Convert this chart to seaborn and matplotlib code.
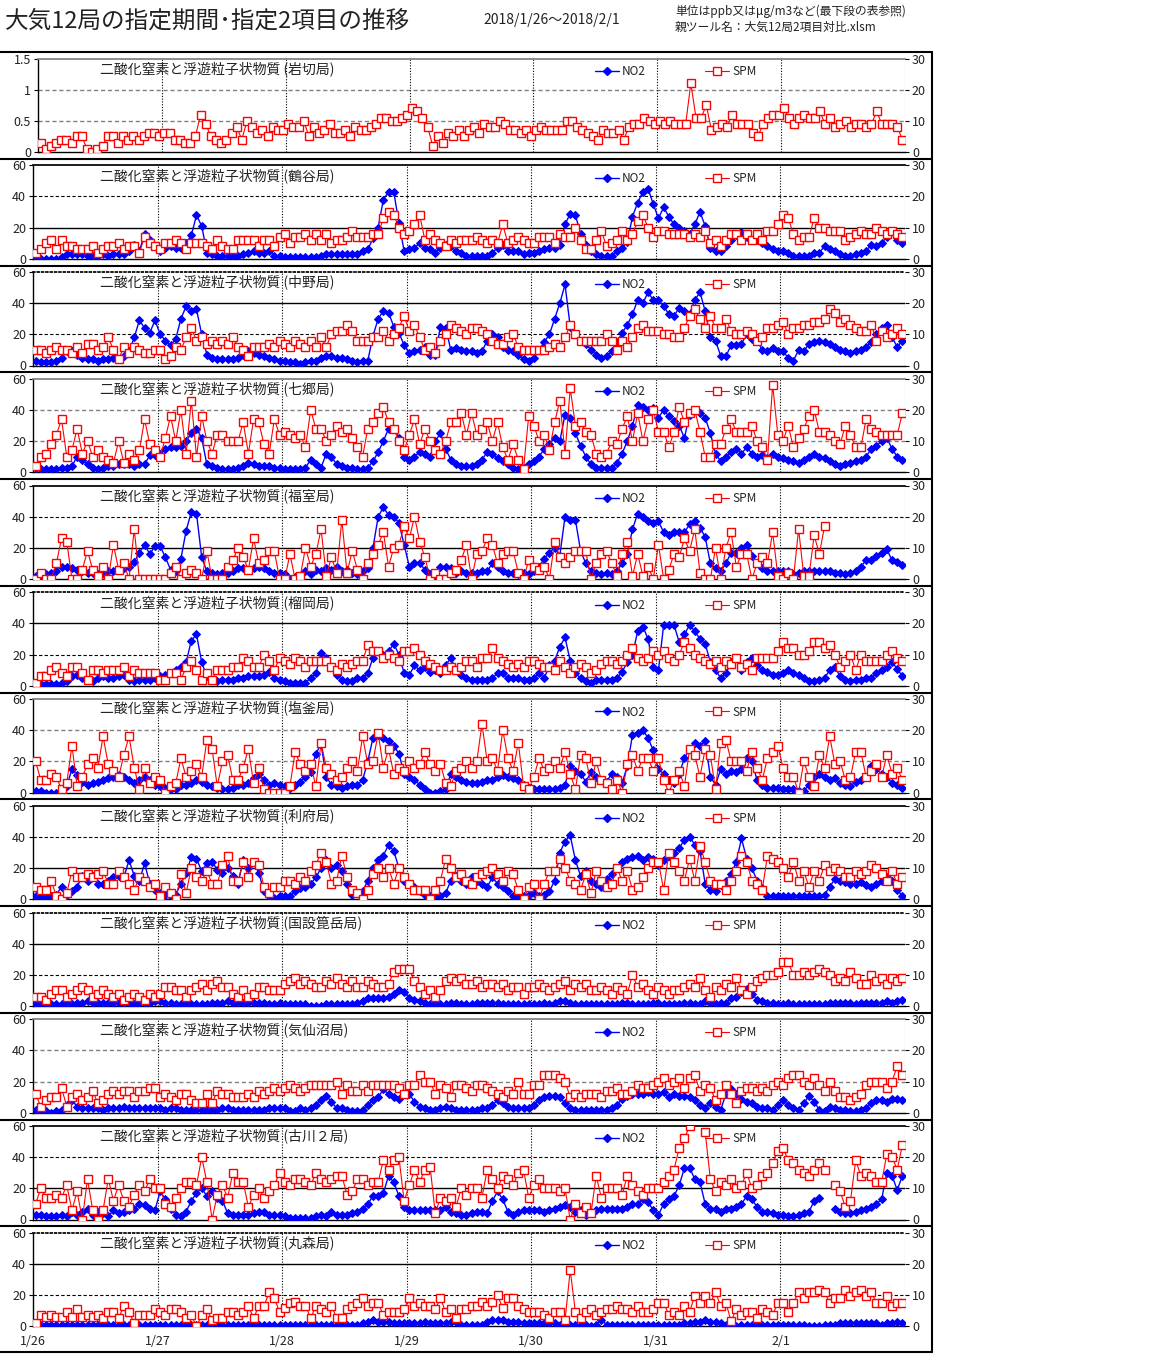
import numpy as np
import pandas as pd
import matplotlib
matplotlib.use('Agg')
import matplotlib.pyplot as plt
import seaborn as sns
from matplotlib.lines import Line2D

# Style
sns.set_theme(style="white")
plt.rcParams['font.family'] = ['Noto Sans CJK JP', 'DejaVu Sans']

N = None  # missing hour

# ---- hourly data 1/26 01:00 .. 2/2 00:00 (168 h), NO2 left axis, SPM right axis ----
iwakiri_no2 = []
iwakiri_spm = [3, 1, 2, 3, 4, 4, 3, 5, 5, 1, 0, 1, 2, 5, 5, 3, 5, 4, 5, 4, 5, 6, 6, 5,
               6, 6, 4, 4, 3, 3, 5, 12, 9, 5, 4, 3, 4, 6, 8, 4, 10, 8, 6, 7, 5, 8, 7, 7,
               9, 8, 8, 10, 5, 8, 6, 7, 9, 6, 6, 7, 5, 8, 7, 7, 8, 9, 11, 11, 10, 10, 11,
               12, 14, 13, 11, 8, 2, 5, 3, 6, 5, 7, 5, 7, 8, 6, 9, 8, 8, 10, 9,
               7, 7, 6, 7, 5, 7, 8, 7, 7, 7, 7, 10, 10, 8, 7, 6, 5, 4, 7, 6,
               6, 7, 4, 8, 9, 9, 11, 10, 9, 10, 9, 10, 9, 9, 9, 22, 11, 11, 15, 7,
               8, 9, 8, 12, 9, 9, 9, 6, 5, 9, 11, 12, 12, 14, 11, 9, 11,
               12, 11, 11, 13, 9, 11, 8, 9, 10, 8, 9, 9, 8, 9, 13, 9, 9, 9, 8, 4]

tsurugaya_no2 = [0, 0, 0, 0, 0, 1, 3, 3, 3, 3, 2, 2, 2, 3, 2, 3, 3, 3, 5, 9, 5, 16, 12, 8,
                 5, 7, 8, 7, 7, 10, 15, 28, 21, 4, 3, 2, 2, 2, 2, 2, 3, 4, 5, 4, 4, 5, 2, 2,
                 1, 1, 1, 1, 1, 1, 1, 2, 3, 3, 3, 3, 3, 3, 3, 5, 6, 13, 20, 38, 43, 43, 23, 5,
                 6, 7, 10, 7, 6, 4, 7, 9, 8, 5, 4, 2, 2, 2, 2, 2, 4, 7, 9, 5, 5, 5, 3, 4,
                 4, 5, 6, 7, 7, 9, 22, 29, 28, 16, 9, 5, 3, 2, 2, 2, 5, 7, 11, 27, 36, 43, 45, 35,
                 26, 33, 27, 22, 20, 18, 16, 22, 30, 21, 7, 5, 5, 8, 12, 15, 17, 14, 12, 12, 10, 8, 6, 5,
                 5, 4, 2, 2, 2, 2, 4, 4, 8, 6, 5, 3, 2, 2, 3, 4, 5, 9, 8, 10, 14, 18, 12, 10]
tsurugaya_spm = [2, 3, 5, 6, 3, 6, 4, 4, 3, 3, 3, 4, 2, 3, 4, 4, 5, 3, 4, 4, 2, 7, 5, 4,
                 3, 5, 5, 6, 5, 3, 5, 5, 5, 4, 3, 6, 4, 3, 3, 6, 6, 6, 6, 4, 6, 6, 4, 7,
                 8, 5, 7, 7, 8, 6, 8, 6, 8, 5, 6, 6, 7, 9, 7, 7, 7, 8, 8, 13, 15, 14, 10, 8,
                 9, 11, 14, 6, 8, 6, 5, 4, 6, 5, 6, 6, 6, 7, 6, 5, 6, 5, 11, 5, 6, 7, 6, 5,
                 5, 7, 7, 7, 5, 8, 7, 7, 10, 6, 3, 3, 6, 9, 4, 5, 6, 9, 6, 8, 12, 14, 10, 7,
                 9, 9, 8, 8, 8, 8, 7, 8, 7, 9, 5, 6, 4, 6, 8, 8, 6, 8, 6, 8, 6, 9, 9, 11,
                 14, 13, 8, 6, 7, 7, 13, 10, 10, 9, 9, 9, 6, 7, 8, 9, 8, 8, 10, 9, 8, 9, 8, 7]

nakano_no2 = [3, 2, 2, 2, 3, 5, 9, 9, 7, 5, 4, 4, 3, 4, 4, 5, 4, 6, 9, 18, 29, 24, 21, 29,
              20, 16, 13, 17, 30, 38, 35, 36, 20, 7, 5, 4, 4, 4, 4, 5, 7, 9, 8, 7, 6, 5, 4, 3,
              3, 2, 2, 1, 2, 3, 3, 5, 6, 6, 5, 5, 4, 3, 2, 3, 3, 19, 30, 35, 34, 25, 21, 13,
              8, 9, 10, 12, 7, 7, 25, 24, 10, 11, 10, 9, 9, 8, 9, 16, 20, 18, 12, 10, 9, 7, 4, 3,
              5, 10, 15, 20, 30, 40, 52, 25, 20, 16, 14, 10, 7, 5, 6, 9, 15, 21, 26, 33, 42, 40, 47, 42,
              42, 38, 33, 32, 37, 35, 33, 42, 47, 35, 18, 16, 6, 6, 13, 13, 14, 20, 17, 16, 10, 9, 11, 9,
              9, 5, 3, 10, 9, 14, 15, 16, 15, 14, 12, 10, 9, 8, 9, 10, 12, 15, 20, 24, 26, 18, 12, 16]
nakano_spm = [5, 5, 4, 5, 6, 5, 5, 4, 6, 4, 7, 7, 5, 6, 9, 5, 2, 6, 4, 6, 5, 4, 4, 5,
              5, 2, 3, 6, 5, 9, 12, 8, 9, 7, 8, 7, 8, 7, 9, 6, 5, 3, 6, 6, 6, 7, 6, 8,
              7, 6, 8, 7, 6, 8, 6, 9, 6, 10, 11, 11, 13, 11, 8, 8, 8, 9, 9, 11, 8, 10, 12, 16,
              11, 13, 9, 5, 6, 4, 8, 10, 13, 12, 11, 10, 12, 12, 11, 10, 8, 7, 7, 9, 10, 6, 5, 5,
              5, 5, 5, 6, 7, 6, 9, 13, 10, 8, 8, 8, 8, 8, 10, 8, 5, 8, 6, 9, 12, 13, 11, 11,
              11, 10, 10, 9, 9, 12, 16, 18, 15, 12, 16, 12, 12, 15, 11, 10, 10, 11, 10, 8, 9, 12, 12, 13,
              14, 10, 12, 12, 13, 13, 14, 14, 15, 18, 17, 14, 15, 13, 12, 11, 11, 13, 8, 11, 9, 10, 12, 10]

shichigo_no2 = [3, 2, 2, 2, 2, 3, 3, 4, 10, 8, 5, 3, 2, 3, 4, 4, 5, 5, 5, 4, 5, 5, 11, 11,
                12, 15, 16, 16, 17, 20, 25, 28, 22, 5, 4, 3, 2, 2, 2, 3, 4, 6, 5, 4, 4, 4, 3, 3,
                2, 2, 2, 2, 3, 8, 5, 3, 12, 10, 5, 4, 3, 3, 2, 2, 3, 7, 13, 20, 28, 28, 22, 10,
                8, 10, 13, 12, 10, 20, 25, 15, 8, 5, 4, 4, 4, 5, 8, 13, 12, 9, 7, 5, 3, 2, 3, 5,
                7, 10, 15, 18, 22, 20, 37, 35, 25, 17, 10, 5, 3, 3, 3, 3, 6, 12, 20, 30, 43, 42, 40, 41,
                35, 40, 36, 33, 30, 22, 37, 40, 38, 35, 25, 12, 7, 10, 13, 15, 12, 16, 12, 10, 11, 9, 12, 10,
                9, 8, 7, 6, 8, 10, 12, 10, 9, 7, 5, 4, 5, 6, 7, 8, 10, 15, 17, 20, 22, 15, 10, 8]
shichigo_spm = [2, 5, 6, 9, 12, 17, 5, 7, 14, 6, 10, 5, 7, 5, 4, 3, 10, 3, 6, 4, 7, 17, 9, 7,
                5, 11, 18, 10, 20, 6, 23, 5, 18, 10, 6, 12, 12, 10, 10, 10, 16, 6, 17, 16, 9, 6, 17, 12,
                13, 12, 11, 12, 8, 20, 14, 14, 10, 12, 15, 13, 14, 11, 8, 5, 14, 16, 19, 21, 16, 14, 10, 7,
                12, 17, 9, 14, 10, 7, 6, 10, 16, 16, 19, 12, 19, 12, 14, 16, 10, 16, 8, 4, 9, 4, 1, 18,
                15, 10, 12, 7, 16, 23, 6, 27, 15, 16, 13, 12, 6, 5, 6, 10, 9, 14, 18, 10, 19, 10, 17, 20,
                13, 13, 8, 13, 21, 16, 19, 20, 13, 5, 5, 9, 9, 14, 17, 13, 13, 13, 15, 10, 8, 4, 28, 12,
                10, 15, 8, 11, 14, 18, 20, 13, 13, 12, 10, 9, 15, 12, 8, 8, 17, 14, 13, 12, 12, 12, 12, 19]

fukumuro_no2 = [2, 2, 3, 4, 5, 8, 8, 7, 6, 5, 4, 4, 3, 4, 5, 5, 6, 7, 8, 11, 17, 22, 16, 21,
                21, 14, 6, 5, 13, 31, 43, 42, 14, 5, 4, 3, 4, 4, 5, 7, 7, 6, 7, 8, 7, 5, 4, 4,
                3, 0, 1, 2, 5, 3, 6, 5, 7, 6, 8, 5, 6, 4, 3, 5, 7, 20, 40, 46, 41, 40, 36, 22,
                8, 10, 10, 6, 3, 3, 8, 8, 7, 4, 5, 4, 4, 4, 5, 5, 10, 8, 5, 4, 4, 3, 4, 3,
                5, 8, 13, 17, 20, 15, 40, 38, 38, 18, 10, 5, 4, 3, 4, 3, 5, 10, 16, 32, 42, 40, 37, 36,
                37, 30, 28, 30, 30, 30, 35, 37, 33, 27, 10, 7, 5, 10, 17, 17, 20, 22, 15, 10, 7, 5, 5, 5,
                5, 5, 3, 4, 5, 5, 5, 5, 5, 5, 4, 4, 3, 4, 5, 8, 12, 12, 15, 17, 19, 12, 11, 9]
fukumuro_spm = [0, 2, 0, 0, 5, 13, 12, 0, 0, 3, 9, 3, 1, 4, 0, 11, 3, 5, 0, 16, 0, 0, 0, 0,
                0, 0, 2, 4, 0, 2, 3, 2, 0, 9, 0, 0, 0, 4, 6, 10, 7, 3, 13, 5, 6, 9, 9, 0,
                0, 8, 0, 1, 10, 4, 8, 16, 1, 7, 2, 19, 2, 9, 3, 0, 5, 8, 11, 15, 4, 10, 11, 17,
                13, 20, 12, 7, 0, 2, 0, 0, 2, 3, 6, 11, 0, 8, 9, 13, 11, 5, 8, 9, 9, 2, 0, 6,
                4, 3, 4, 0, 12, 7, 5, 7, 9, 9, 9, 0, 5, 8, 9, 5, 1, 8, 12, 1, 8, 1, 4, 0,
                11, 0, 3, 8, 7, 13, 9, 16, 2, 0, 0, 10, 0, 10, 15, 4, 8, 8, 0, 5, 7, 5, 15, 1,
                0, 2, 0, 16, 1, 1, 14, 8, 17, N, N, N, N, N, N, N, N, N, N, N, N, N, N, N]

tsutsujigaoka_no2 = [1, 1, 1, 1, 1, 2, 3, 6, 7, 5, 4, 3, 5, 6, 5, 5, 6, 7, 4, 3, 4, 4, 4, 5,
                     6, 7, 8, 10, 12, 15, 29, 33, 15, 6, 4, 3, 4, 4, 4, 5, 5, 6, 6, 6, 7, 9, 5, 4,
                     3, 2, 2, 2, 2, 5, 8, 21, 18, 12, 7, 4, 3, 3, 5, 5, 8, 18, 22, 20, 22, 27, 20, 8,
                     7, 13, 10, 12, 9, 10, 8, 13, 18, 10, 7, 5, 4, 4, 4, 4, 5, 8, 8, 5, 5, 5, 4, 4,
                     5, 8, 5, 13, 16, 25, 31, 16, 8, 5, 3, 2, 4, 4, 4, 4, 5, 9, 15, 20, 35, 38, 30, 12,
                     10, 39, 39, 39, 28, 33, 39, 35, 30, 27, 15, 10, 5, 8, 15, 18, 10, 15, 18, 13, 10, 9, 7, 7,
                     8, 10, 8, 7, 5, 3, 3, 4, 5, 10, 12, 6, 4, 3, 4, 4, 5, 5, 8, 10, 12, 15, 11, 6]
tsutsujigaoka_spm = [1, 3, 3, 5, 6, 4, 3, 6, 6, 4, 2, 5, 5, 4, 5, 5, 5, 6, 3, 5, 4, 4, 4, 4,
                     2, 2, 4, 4, 2, 6, 8, 5, 2, 4, 2, 5, 5, 5, 6, 6, 9, 8, 6, 6, 10, 8, 5, 9,
                     8, 7, 9, 8, 6, 8, 8, 8, 8, 6, 5, 7, 6, 7, 8, 8, 13, 11, 11, 9, 10, 9, 8, 11,
                     11, 12, 10, 8, 7, 6, 5, 5, 6, 5, 6, 8, 8, 6, 9, 9, 12, 9, 8, 7, 6, 7, 6, 8,
                     8, 7, 6, 6, 5, 8, 6, 4, 6, 7, 6, 4, 5, 7, 8, 8, 7, 8, 10, 12, 9, 8, 9, 11,
                     10, 11, 9, 8, 10, 14, 12, 10, 9, 8, 7, 8, 6, 8, 7, 9, 6, 7, 5, 9, 9, 9, 9, 11,
                     14, 12, 12, 10, 10, 11, 14, 14, 12, 13, 10, 6, 8, 10, 5, 10, 8, 8, 8, 8, 10, 11, 9, 8]

shiogama_no2 = [1, 1, 0, 0, 0, 1, 4, 15, 11, 7, 5, 6, 7, 8, 9, 10, 11, 10, 8, 6, 8, 10, 8, 5,
                4, 3, 2, 2, 5, 5, 6, 8, 7, 5, 4, 3, 2, 2, 3, 5, 5, 6, 9, 12, 8, 5, 6, 5,
                4, 3, 5, 7, 10, 13, 25, 31, 10, 5, 4, 3, 4, 5, 5, 8, 20, 35, 37, 35, 33, 30, 25, 12,
                10, 8, 5, 2, 0, 0, 1, 2, 12, 10, 8, 7, 6, 6, 7, 8, 8, 10, 11, 10, 9, 8, 5, 3,
                2, 2, 2, 2, 2, 3, 5, 17, 14, 12, 7, 13, 10, 8, 7, 12, 10, 6, 17, 37, 38, 40, 35, 27,
                15, 12, 8, 6, 12, 22, 28, 32, 30, 33, 10, 5, 15, 12, 14, 13, 15, 22, 20, 8, 5, 3, 3, 3,
                2, 2, 2, 1, 1, 5, 10, 12, 10, 8, 9, 6, 5, 4, 7, 8, 10, 17, 15, 12, 10, 6, 5, 3]
shiogama_spm = [10, 4, 4, 6, 5, 1, 3, 15, 2, 5, 9, 11, 8, 18, 9, 7, 5, 12, 18, 8, 1, 8, 3, 5,
                4, 0, 2, 3, 11, 5, 7, 9, 5, 17, 14, 2, 10, 12, 4, 4, 8, 14, 3, 8, 1, 0, 0, 0,
                0, 2, 13, 9, 7, 9, 2, 16, 8, 6, 4, 5, 8, 10, 7, 18, 9, 10, 19, 8, 14, 6, 8, 7,
                10, 8, 9, 13, 9, 7, 9, 3, 2, 7, 8, 10, 8, 10, 22, 10, 11, 7, 20, 11, 7, 16, 2, 1,
                5, 11, 7, 8, 10, 8, 13, 6, 1, 12, 11, 3, 10, 4, 3, 1, 4, 0, 9, 12, 7, 11, 11, 7,
                11, 4, 0, 4, 7, 2, 14, 12, 5, 14, 12, 1, 16, 17, 10, 10, 10, 7, 13, 8, 4, 11, 13, 15,
                8, 5, 5, 0, 10, 5, 2, 12, 8, 18, 9, 10, 4, 5, 13, 13, 5, 7, 9, 5, 12, 6, 8, 4]

rifu_no2 = [2, 2, 1, 2, 3, 8, 3, 5, 8, 15, 12, 15, 10, 10, 12, 14, 15, 14, 25, 15, 12, 23, 10, 6,
            4, 3, 2, 3, 10, 17, 27, 26, 18, 23, 24, 19, 17, 20, 15, 10, 25, 20, 24, 17, 5, 2, 1, 2,
            2, 2, 5, 7, 8, 10, 14, 20, 25, 20, 22, 18, 10, 3, 4, 5, 12, 20, 25, 28, 35, 31, 20, 12,
            10, 8, 5, 3, 2, 2, 2, 4, 12, 15, 12, 10, 14, 12, 10, 8, 14, 10, 8, 5, 2, 1, 2, 3,
            4, 2, 3, 5, 12, 30, 37, 41, 25, 15, 18, 12, 10, 8, 13, 16, 20, 24, 26, 27, 28, 25, 27, 26,
            22, 25, 28, 30, 33, 38, 40, 35, 31, 10, 6, 5, 9, 12, 16, 24, 39, 26, 20, 12, 7, 2, 2, 2,
            2, 2, 2, 2, 2, 2, 2, 2, 3, 8, 13, 12, 11, 10, 10, 11, 9, 8, 10, 12, 14, 12, 6, 2]
rifu_spm = [4, 3, 3, 6, 1, 0, 2, 9, 7, 7, 8, 7, 8, 9, 5, 5, 9, 7, 5, 3, 7, 6, 4, 5,
            1, 4, 2, 0, 8, 2, 10, 7, 6, 9, 5, 5, 11, 14, 6, 6, 12, 7, 12, 11, 4, 2, 4, 4,
            6, 6, 5, 7, 6, 9, 11, 15, 12, 5, 6, 14, 7, 3, 2, 0, 3, 8, 10, 7, 10, 5, 10, 7,
            5, 3, 3, 3, 0, 3, 6, 13, 10, 7, 8, 6, 5, 7, 8, 9, 10, 8, 6, 9, 8, 3, 0, 4,
            5, 0, 5, 9, 9, 13, 10, 6, 5, 3, 8, 2, 9, 6, 4, 5, 10, 6, 9, 3, 4, 7, 10, 12,
            12, 3, 15, 12, 9, 6, 13, 6, 17, 12, 6, 5, 5, 3, 6, 9, 14, 12, 6, 5, 3, 14, 13, 12,
            10, 7, 12, 6, 9, 4, 9, 6, 11, 9, 10, 9, 7, 7, 9, 8, 9, 11, 10, 8, 6, 9, 5, 7]

nonodake_no2 = [1, 1, 1, 1, 1, 1, 1, 1, 2, 2, 3, 2, 2, 2, 2, 2, 2, 2, 1, 1, 2, 2, 2, 3,
                3, 2, 2, 1, 1, 1, 1, 1, 1, 1, 2, 2, 2, 3, 2, 2, 2, 2, 2, 2, 2, 1, 1, 2,
                1, 1, 1, 1, 1, 0, 0, 0, 1, 1, 1, 1, 1, 1, 2, 3, 5, 5, 5, 5, 6, 8, 10, 9,
                5, 4, 3, 2, 1, 1, 1, 1, 2, 2, 1, 1, 1, 2, 2, 2, 2, 2, 1, 1, 1, 1, 1, 1,
                1, 1, 2, 1, 2, 3, 3, 2, 1, 1, 1, 1, 1, 1, 1, 1, 1, 2, 2, 1, 1, 1, 1, 2,
                2, 1, 1, 1, 1, 2, 2, 1, 1, 3, 2, 1, 2, 2, 5, 6, 9, 11, 8, 4, 3, 2, 2, 1,
                1, 2, 1, 1, 1, 1, 1, 1, 1, 2, 2, 2, 2, 2, 1, 2, 2, 2, 2, 2, 3, 2, 3, 4]
nonodake_spm = [3, 3, 2, 4, 5, 5, 3, 4, 5, 6, 5, 3, 4, 5, 4, 3, 4, 2, 3, 4, 3, 2, 4, 3,
                4, 6, 6, 5, 5, 3, 5, 6, 7, 5, 7, 8, 6, 6, 4, 3, 5, 3, 4, 6, 6, 5, 5, 5,
                7, 8, 9, 7, 8, 7, 6, 6, 8, 7, 9, 7, 6, 8, 6, 6, 8, 7, 6, 6, 7, 11, 12, 12,
                12, 8, 6, 4, 5, 3, 5, 8, 9, 8, 9, 7, 7, 8, 6, 7, 7, 6, 7, 5, 6, 6, 4, 6,
                6, 7, 6, 5, 6, 7, 8, 5, 7, 6, 7, 5, 5, 6, 5, 4, 6, 5, 4, 10, 6, 7, 5, 4,
                6, 5, 4, 5, 5, 6, 7, 6, 9, 5, 3, 6, 5, 7, 6, 9, 5, 4, 6, 8, 9, 10, 10, 11,
                14, 14, 10, 10, 11, 10, 11, 12, 11, 10, 8, 9, 8, 11, 9, 7, 7, 10, 8, 9, 7, 9, 8, 9]

kesennuma_no2 = [2, 1, 1, 0, 1, 2, 5, 8, 4, 3, 3, 3, 3, 2, 3, 3, 3, 4, 3, 3, 3, 3, 3, 3,
                 3, 2, 3, 3, 2, 2, 2, 2, 2, 2, 2, 2, 3, 3, 2, 2, 2, 2, 2, 2, 2, 3, 3, 3,
                 3, 1, 1, 3, 2, 3, 5, 8, 11, 7, 3, 3, 2, 1, 1, 2, 5, 8, 10, 15, 12, 10, 9, 12,
                 12, 7, 4, 3, 2, 2, 3, 4, 3, 2, 2, 2, 2, 2, 3, 3, 5, 8, 6, 4, 3, 3, 3, 3,
                 5, 8, 10, 11, 11, 10, 6, 3, 2, 2, 2, 2, 2, 2, 2, 3, 5, 9, 11, 12, 12, 12, 13, 12,
                 12, 13, 10, 12, 11, 11, 10, 8, 5, 3, 6, 4, 2, 12, 15, 12, 9, 7, 6, 4, 3, 3, 2, 5,
                 8, 5, 3, 2, 6, 11, 7, 2, 1, 4, 3, 2, 2, 1, 1, 2, 3, 6, 8, 8, 7, 9, 9, 8]
kesennuma_spm = [6, 2, 4, 5, 5, 8, 2, 5, 6, 4, 5, 7, 3, 4, 6, 7, 6, 7, 7, 5, 7, 7, 8, 8,
                 5, 6, 5, 4, 6, 6, 4, 3, 3, 6, 3, 7, 6, 6, 5, 5, 5, 6, 5, 7, 6, 7, 8, 7,
                 8, 9, 8, 7, 8, 9, 9, 9, 9, 9, 10, 6, 9, 7, 7, 9, 7, 9, 9, 9, 9, 9, 8, 6,
                 9, 9, 12, 10, 10, 6, 9, 8, 5, 9, 9, 8, 7, 9, 9, 8, 7, 6, 5, 7, 6, 10, 6, 6,
                 9, 9, 12, 12, 12, 11, 10, 5, 6, 5, 6, 6, 6, 5, 7, 7, 8, 6, 6, 7, 9, 8, 8, 9,
                 10, 11, 9, 10, 11, 8, 11, 12, 7, 9, 8, 4, 6, 9, 6, 3, 7, 8, 8, 7, 8, 7, 9, 10,
                 9, 11, 12, 12, 10, 9, 11, 9, 7, 10, 7, 5, 5, 4, 5, 6, 9, 10, 10, 10, 8, 10, 15, 12]

furukawa_no2 = [3, 3, 2, 2, 2, 3, 2, 5, 3, 5, 7, 3, 5, 4, 2, 6, 4, 5, 6, 7, 10, 9, 7, 6,
                18, 13, 7, 3, 2, 5, 12, 17, 20, 15, 18, 14, 12, 4, 3, 3, 3, 3, 4, 5, 5, 3, 3, 3,
                2, 1, 1, 1, 1, 1, 2, 3, 2, 5, 3, 3, 3, 4, 5, 7, 10, 15, 15, 17, 28, 24, 15, 8,
                6, 6, 6, 6, 6, 6, 6, 8, 5, 4, 3, 3, 4, 5, 5, 4, 12, 18, 13, 5, 3, 5, 6, 6,
                6, 6, 5, 6, 7, 8, 9, 8, 5, 6, 3, 5, 6, 7, 7, 7, 7, 7, 8, 10, 10, 13, 11, 6,
                3, 10, 13, 15, 22, 33, 33, 26, 24, 10, 7, 7, 5, 7, 7, 8, 10, 15, 13, 8, 5, 5, 4, 3,
                3, 2, 2, 3, 4, 5, 12, 14, N, N, 7, 5, 4, 4, 5, 6, 7, 8, 10, 13, 30, 28, 19, 28]
furukawa_spm = [5, 10, 7, 7, 8, 7, 11, 3, 9, 0, 13, 3, 0, 3, 13, 6, 11, 6, 4, 8, 11, 9, 13, 10,
                10, 5, 4, 7, 10, 12, 12, 11, 20, 12, 0, 8, 11, 7, 15, 12, 12, 4, 8, 10, 7, 9, 11, 15,
                12, 11, 13, 13, 12, 11, 15, 13, 12, 13, 14, 14, 8, 9, 13, 13, 11, 12, 12, 19, 16, 19, 20, 6,
                11, 16, 12, 16, 17, 2, 7, 6, 7, 4, 10, 8, 10, 10, 7, 16, 13, 10, 14, 13, 11, 15, 16, 7,
                11, 13, 10, 10, 10, 9, 10, 0, 5, 2, 4, 2, 14, 7, 10, 10, 10, 8, 14, 11, 9, 8, 10, 10,
                10, 12, 14, 16, 23, 26, 30, N, N, 28, 13, 9, 12, 11, 13, 10, 11, 15, 10, 11, 14, 15, 18, 22,
                23, 19, 18, 16, 15, 14, 16, 18, 16, N, 11, 9, 4, 6, 19, 14, 15, 14, 12, 12, 21, 20, 16, 24]

marumori_no2 = [1, 1, 1, 1, 1, 1, 1, 1, 1, 1, 1, 1, 1, 1, 1, 1, 1, 1, 1, 1, 1, 1, 1, 1,
                1, 1, 1, 1, 1, 1, 1, 1, 1, 1, 1, 1, 1, 1, 1, 1, 1, 1, 2, 1, 1, 1, 1, 1,
                1, 1, 1, 1, 1, 1, 1, 1, 1, 1, 1, 1, 1, 1, 1, 2, 3, 4, 3, 3, 3, 2, 2, 2,
                2, 2, 2, 3, 2, 2, 2, 2, 3, 3, 1, 1, 1, 1, 1, 3, 4, 4, 4, 3, 3, 3, 2, 2,
                2, 2, 2, 2, 2, 1, 1, 1, 1, 1, 1, 0, 1, 4, 1, 1, 1, 1, 1, 1, 1, 1, 1, 1,
                1, 1, 1, 1, 1, 2, 2, 3, 3, 4, 3, 3, 2, 1, 0, 0, 1, 1, 1, 1, 1, 1, 1, 1,
                1, 1, 1, 1, 1, 0, 0, 0, 1, 1, 1, 2, 2, 2, 2, 2, 2, 2, 2, 1, 2, 2, 3, 2]
marumori_spm = [1, 3.5, 3, 3.5, 3, 3, 4.6, 3, 5.5, 3, 3.5, 3, 3.5, 2.6, 4.6, 4.6, 2.6, 6.5, 4.6, 1, 3.5, 3.5, 3.5, 5.5,
                4.6, 3.7, 5.5, 5.5, 4.6, 2.6, 3.5, 0, 3.5, 5.5, 1.9, 2.6, 2.6, 4.6, 4.6, 3.5, 4.6, 6.5, 2.6, 6.5, 6.5, 10.9, 9, 4.6,
                5.7, 7.3, 7.9, 6.5, 6.5, 2.6, 6.5, 5.5, 4.6, 6.5, 2.6, 2.6, 5.5, 6.5, 7.3, 9, 6.5, 7.3, 7.5, 3.5, 4.6, 4.6, 4.6, 5.5,
                9, 6.5, 7.5, 6.5, 6.5, 5.5, 9, 4.6, 5.5, 2.6, 5.5, 5.5, 6.5, 6.5, 7.9, 6.5, 7.9, 10, 5.7, 9, 9, 6.5, 5.5, 4.6,
                4.6, 4.6, 3.7, 2.6, 4.6, 4.6, 1.9, 18, 4.6, 2.6, 4.6, 5.5, 3.7, 4.6, 5.5, 5.5, 6.5, 5.5, 5.5, 4.6, 6.5, 4.6, 4.6, 5.5,
                7.5, 7.5, 3.7, 4.6, 3.7, 6.5, 4.6, 9.8, 7.5, 9.8, 7.5, 10.9, 6.5, 7.5, 1.6, 5.5, 3.5, 4.6, 4.6, 2.6, 5.5, 4.6, 3.7, 7.5,
                7.5, 4.6, 7.5, 10.9, 9, 10.9, 10.9, 11.7, 10.9, 7.5, 9, 9, 11.7, 9.8, 10.9, 11.7, 9.8, 10.9, 7.5, 7.5, 9.8, 6.5, 7.5, 7.5]

stations = ['岩切局', '鶴谷局', '中野局', '七郷局', '福室局', '榴岡局',
            '塩釜局', '利府局', '国設箟岳局', '気仙沼局', '古川２局', '丸森局']
no2_series = [iwakiri_no2, tsurugaya_no2, nakano_no2, shichigo_no2, fukumuro_no2, tsutsujigaoka_no2,
              shiogama_no2, rifu_no2, nonodake_no2, kesennuma_no2, furukawa_no2, marumori_no2]
spm_series = [iwakiri_spm, tsurugaya_spm, nakano_spm, shichigo_spm, fukumuro_spm, tsutsujigaoka_spm,
              shiogama_spm, rifu_spm, nonodake_spm, kesennuma_spm, furukawa_spm, marumori_spm]
day_labels = ['1/26', '1/27', '1/28', '1/29', '1/30', '1/31', '2/1', '']

for nm, a, b in zip(stations, no2_series, spm_series):
    assert len(a) in (0, 168), (nm, 'no2', len(a))
    assert len(b) == 168, (nm, 'spm', len(b))

# ---- layout (pixels) ----
W, H = 1152, 1369
BLUE, RED = '#0000FF', '#FF0000'
TXT = '#222222'


def fx(px):
    return px / W


def fy(py):
    return 1 - py / H


def to_frame(values):
    """hour / value table; a new segment id after every missing hour keeps the gaps open"""
    v = np.array(values, dtype=float)
    return pd.DataFrame({'hour': np.arange(len(v)) + 0.5, 'value': v,
                         'seg': np.cumsum(np.isnan(v))})


fig = plt.figure(figsize=(W / 100, H / 100), dpi=100)

fig.text(fx(5), fy(21), '大気12局の指定期間･指定2項目の推移', fontsize=17, color=TXT, va='center')
fig.text(fx(483), fy(20), '2018/1/26～2018/2/1', fontsize=10, color=TXT, va='center')
fig.text(fx(675), fy(11), '単位はppb又はμg/m3など(最下段の表参照)', fontsize=8.5, color=TXT, va='center')
fig.text(fx(675), fy(27), '親ツール名：大気12局2項目対比.xlsm', fontsize=8.5, color=TXT, va='center')

frame_top0 = 52
frame_h = 106.75

leg_handles = [Line2D([], [], color=BLUE, lw=1, marker='D', ms=4, mfc=BLUE, mec=BLUE),
               Line2D([], [], color=RED, lw=0.8, marker='s', ms=6, mfc='white', mec=RED, mew=1)]

for k, name in enumerate(stations):
    top = frame_top0 + frame_h * k + 6.5
    bottom = top + 93.5
    left = 38 if k == 0 else 33
    right = 905
    ax = fig.add_axes([fx(left), fy(bottom), fx(right - left), (bottom - top) / H])
    ax2 = ax.twinx()

    ymax = 1.5 if k == 0 else 60
    ax.set_xlim(0, 168)
    ax.set_ylim(0, ymax)
    ax2.set_ylim(0, 30)

    # gridlines (pattern repeats every 3 panels, as in the original)
    style = k % 3
    if style == 0:
        ax.axhline(ymax / 3, color='#808080', lw=1, ls=(0, (3, 2)), zorder=1)
        ax.axhline(ymax * 2 / 3, color='#808080', lw=1, ls=(0, (3, 2)), zorder=1)
        ax.spines['top'].set_color('#808080')
    elif style == 1:
        ax.axhline(ymax / 3, color='black', lw=1, zorder=1)
        ax.axhline(ymax * 2 / 3, color='black', lw=0.8, ls=(0, (3, 2)), zorder=1)
        ax.spines['top'].set_color('black')
    else:
        ax.axhline(ymax / 3, color='black', lw=0.8, ls=(0, (3, 2)), zorder=1)
        ax.axhline(ymax * 2 / 3, color='black', lw=1, zorder=1)
        ax.spines['top'].set_linestyle((0, (1, 1.5)))
        ax.spines['top'].set_color('black')
    for d in range(1, 8):
        ax.axvline(24 * d, color='black', lw=0.8, ls=(0, (1, 1.5)), zorder=1)

    for side in ['left', 'bottom']:
        ax.spines[side].set_color('black')
        ax.spines[side].set_linewidth(1)
    ax.spines['right'].set_visible(False)
    for s in ax2.spines.values():
        s.set_visible(False)

    # data
    if len(no2_series[k]):
        sns.lineplot(data=to_frame(no2_series[k]), x='hour', y='value', units='seg', ax=ax,
                     color=BLUE, lw=1, marker='D', markersize=4, markeredgecolor=BLUE,
                     markerfacecolor=BLUE, estimator=None, sort=False, zorder=3)
    sns.lineplot(data=to_frame(spm_series[k]), x='hour', y='value', units='seg', ax=ax2,
                 color=RED, lw=0.8, marker='s', markersize=6, markeredgecolor=RED,
                 markerfacecolor='white', markeredgewidth=1, estimator=None, sort=False, zorder=3)

    ax.set_xlabel('')
    ax.set_ylabel('')
    ax2.set_ylabel('')

    # ticks
    if k == 0:
        ax.set_yticks([0, 0.5, 1, 1.5])
        ax.set_yticklabels(['0', '0.5', '1', '1.5'])
    else:
        ax.set_yticks([0, 20, 40, 60])
        ax.set_yticklabels(['0', '20', '40', '60'])
    ax2.set_yticks([0, 10, 20, 30])
    ax2.set_yticklabels(['0', '10', '20', '30'])
    ax.set_xticks(np.arange(0, 169, 24))
    if k == len(stations) - 1:
        ax.set_xticklabels(day_labels)
    else:
        ax.set_xticklabels([])
    ax.tick_params(axis='both', direction='out', length=3, width=0.8, color='black',
                   labelsize=9, labelcolor=TXT, pad=2)
    ax.tick_params(axis='x', pad=3)
    ax2.tick_params(axis='y', direction='out', length=3, width=0.8, color='black',
                    labelsize=9, labelcolor=TXT, pad=2)

    # panel title and legend
    fig.text(fx(100), fy(top + 10), '二酸化窒素と浮遊粒子状物質 (' + name + ')',
             fontsize=10, color=TXT, va='center', ha='left')
    ax2.legend(leg_handles, ['NO2', 'SPM'], loc='center left',
               bbox_to_anchor=(fx(595), fy(top + 13)), bbox_transform=fig.transFigure,
               ncol=2, frameon=False, fontsize=8.5, handlelength=2.0, handletextpad=0.3,
               columnspacing=5.0, borderpad=0, borderaxespad=0, labelcolor=TXT)

# chart frames
edges = [frame_top0 + frame_h * k for k in range(12)] + [1352]
for y in edges:
    fig.add_artist(Line2D([0, fx(932)], [fy(y), fy(y)], color='black', lw=1.5,
                          transform=fig.transFigure))
fig.add_artist(Line2D([fx(932), fx(932)], [fy(edges[0]), fy(edges[-1])], color='black', lw=1.5,
                      transform=fig.transFigure))

fig.savefig('out.png', dpi=100)
